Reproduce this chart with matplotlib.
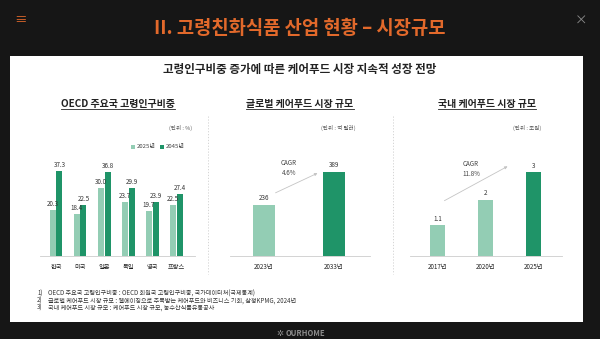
import matplotlib
matplotlib.use("Agg")
import matplotlib.pyplot as plt
from matplotlib.patches import Rectangle, FancyArrowPatch
from matplotlib.lines import Line2D

plt.rcParams['font.family'] = ['Noto Sans CJK KR', 'DejaVu Sans']

# 데이터
oecd_countries = ['한국', '미국', '일본', '독일', '영국', '프랑스']
oecd_2025 = [20.3, 18.4, 30.0, 23.7, 19.7, 22.5]
oecd_2045 = [37.3, 22.5, 36.8, 29.9, 23.9, 27.4]

global_years = ['2023년', '2033년']
global_values = [236, 389]

domestic_years = ['2017년', '2020년', '2025년']
domestic_values = [1.1, 2, 3]

footnotes = [
    'OECD 주요국 고령인구비중 : OECD 회원국 고령인구비중, 국가데이터처(국제통계)',
    '글로벌 케어푸드 시장 규모 : 웰에이징으로 주목받는 케어푸드와 비즈니스 기회, 삼정KPMG, 2024년',
    '국내 케어푸드 시장 규모 : 케어푸드 시장 규모, 농수산식품유통공사',
]

LIGHT = '#93cdb4'
DARK = '#1f9468'
ORANGE = '#e2692b'
W, H = 600, 339

fig = plt.figure(figsize=(6, 3.39), dpi=100, facecolor='#161616')


def box(x, y, w, h):
    # 픽셀 좌표(왼쪽 위 기준) -> figure 비율
    return [x / W, 1 - (y + h) / H, w / W, h / H]


def fx(x):
    return x / W


def fy(y):
    return 1 - y / H


# 흰색 패널
fig.patches.append(Rectangle((fx(10), fy(322)), fx(573), (322 - 56) / H,
                             transform=fig.transFigure, facecolor='white',
                             edgecolor='none', zorder=-1))

# 상단 제목
fig.text(0.5, fy(29), 'II. 고령친화식품 산업 현황 – 시장규모', color=ORANGE,
         fontsize=13.5, fontweight='bold', ha='center', va='center')
fig.text(fx(20), fy(21), '≡', color=ORANGE, fontsize=9, ha='center', va='center')
fig.text(fx(581), fy(21), '×', color='#8a8a8a', fontsize=9, ha='center', va='center')

fig.text(0.5, fy(69), '고령인구비중 증가에 따른 케어푸드 시장 지속적 성장 전망',
         color='#222222', fontsize=8.3, fontweight='bold', ha='center', va='center')

# 패널 제목 (밑줄)
titles = [(118, 'OECD 주요국 고령인구비중'),
          (300, '글로벌 케어푸드 시장 규모'),
          (487, '국내 케어푸드 시장 규모')]
title_objs = []
for cx, t in titles:
    title_objs.append(fig.text(fx(cx), fy(104), t, color='#222222', fontsize=7.2,
                               fontweight='bold', ha='center', va='center'))

# 단위
units = [(181, '(단위 : %)'), (338, '(단위 : 억 달러)'), (527, '(단위 : 조원)')]
for cx, t in units:
    fig.text(fx(cx), fy(128), t, color='#555555', fontsize=4, ha='center', va='center')

# 구분 점선
for x in [208, 393]:
    fig.lines.append(Line2D([fx(x), fx(x)], [fy(116), fy(274)], transform=fig.transFigure,
                            color='#cfcfcf', lw=0.6, ls=(0, (1.5, 2))))


def style(ax):
    for s in ['top', 'right', 'left']:
        ax.spines[s].set_visible(False)
    ax.spines['bottom'].set_color('#cccccc')
    ax.spines['bottom'].set_linewidth(0.6)
    ax.set_yticks([])
    ax.tick_params(axis='x', length=0, labelsize=4.5, labelcolor='#222222', pad=5)
    ax.set_facecolor('none')


# 1) OECD 주요국 고령인구비중
ax1 = fig.add_axes(box(40, 111, 155, 145))
idx = range(len(oecd_countries))
b1 = ax1.bar([i - 0.145 for i in idx], oecd_2025, width=0.25, color=LIGHT)
b2 = ax1.bar([i + 0.145 for i in idx], oecd_2045, width=0.25, color=DARK)
ax1.bar_label(b1, labels=[f'{v:.1f}' for v in oecd_2025], padding=1.5, fontsize=4.5, color='#333333')
ax1.bar_label(b2, labels=[f'{v:.1f}' for v in oecd_2045], padding=1.5, fontsize=4.5, color='#333333')
ax1.set_xticks(list(idx))
ax1.set_xticklabels(oecd_countries)
ax1.set_xlim(-0.667, 5.79)
ax1.set_ylim(0, 63.9)
style(ax1)

# 범례
for lx, c, t in [(133, LIGHT, '2025년'), (162, DARK, '2045년')]:
    fig.patches.append(Rectangle((fx(lx - 2), fy(149)), fx(4), 4 / H, transform=fig.transFigure,
                                 facecolor=c, edgecolor='none'))
    fig.text(fx(lx + 4), fy(147), t, color='#444444', fontsize=4.3, va='center')

# 2) 글로벌 케어푸드 시장 규모
ax2 = fig.add_axes(box(230, 111, 140, 145))
b = ax2.bar(range(len(global_years)), global_values, width=0.31, color=[LIGHT, DARK])
ax2.bar_label(b, padding=2, fontsize=4.5, color='#333333')
ax2.set_xticks(range(len(global_years)))
ax2.set_xticklabels(global_years)
ax2.set_xlim(-0.486, 1.514)
ax2.set_ylim(0, 668)
style(ax2)

# 3) 국내 케어푸드 시장 규모
ax3 = fig.add_axes(box(410, 111, 152, 145))
b = ax3.bar(range(len(domestic_years)), domestic_values, width=0.31, color=[LIGHT, LIGHT, DARK])
ax3.bar_label(b, labels=[f'{v:g}' for v in domestic_values], padding=2, fontsize=4.5, color='#333333')
ax3.set_xticks(range(len(domestic_years)))
ax3.set_xticklabels(domestic_years)
ax3.set_xlim(-0.573, 2.594)
ax3.set_ylim(0, 5.2)
style(ax3)

# CAGR 화살표
for (x0, y0, x1, y1), (tx, ty), txt in [((273, 194, 320, 172), (289, 168), 'CAGR\n4.6%'),
                                        ((442, 202, 510, 165), (471, 169), 'CAGR\n11.8%')]:
    fig.add_artist(FancyArrowPatch(
        (fx(x0), fy(y0)), (fx(x1), fy(y1)), transform=fig.transFigure,
        arrowstyle='-|>', mutation_scale=4, color='#c4c4c4', lw=0.6))
    fig.text(fx(tx), fy(ty), txt, color='#444444', fontsize=4.5, ha='center', va='center',
             linespacing=1.4)

# 출처
for i, t in enumerate(footnotes):
    y = fy(294 + 7 * i)
    fig.text(fx(37), y, f'{i + 1})', color='#333333', fontsize=4.4, va='center')
    fig.text(fx(48), y, t, color='#333333', fontsize=4.4, va='center')

# 로고
fig.text(fx(280), fy(333), '✲', color='#8c8c8c', fontsize=6, ha='center', va='center',
         family='DejaVu Sans')
fig.text(fx(286), fy(333), 'OURHOME', color='#8c8c8c', fontsize=5.5, fontweight='bold',
         va='center')

# 패널 제목 밑줄
fig.canvas.draw()
r = fig.canvas.get_renderer()
for t in title_objs:
    bb = t.get_window_extent(r).transformed(fig.transFigure.inverted())
    fig.lines.append(Line2D([bb.x0, bb.x1], [bb.y0, bb.y0], transform=fig.transFigure,
                            color='#222222', lw=0.6))

fig.savefig('out.png', dpi=100, facecolor=fig.get_facecolor())
